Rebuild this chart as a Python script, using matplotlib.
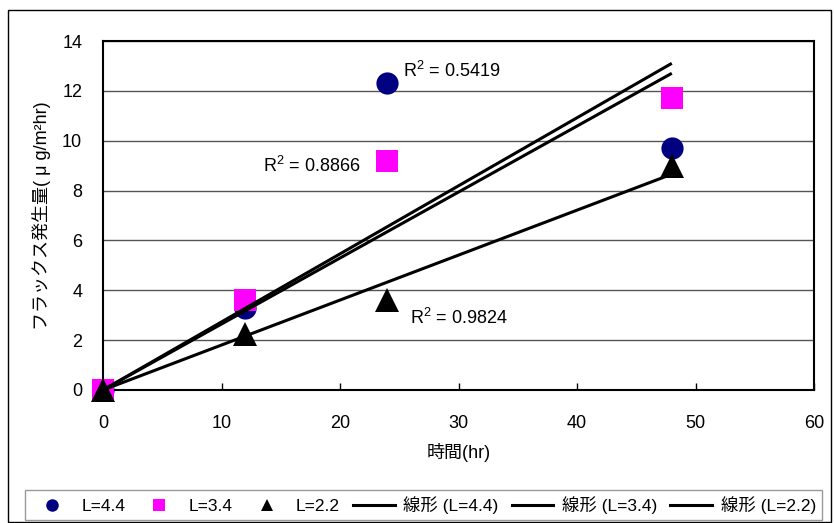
import numpy as np
import matplotlib
matplotlib.use('Agg')
import matplotlib.pyplot as plt
from matplotlib.patches import Rectangle
from matplotlib.lines import Line2D

plt.rcParams['font.family'] = ['Liberation Sans', 'Noto Sans CJK JP']
plt.rcParams['mathtext.fontset'] = 'custom'
plt.rcParams['mathtext.rm'] = 'Liberation Sans'
plt.rcParams['mathtext.it'] = 'Liberation Sans'
plt.rcParams['mathtext.default'] = 'regular'

# ---- data ----
hours = [0, 12, 24, 48]
flux_44 = [0.0, 3.3, 12.3, 9.7]
flux_34 = [0.0, 3.6, 9.2, 11.7]
flux_22 = [0.0, 2.25, 3.6, 9.0]
series_labels = ['L=4.4', 'L=3.4', 'L=2.2']
trend_labels = ['線形 (L=4.4)', '線形 (L=3.4)', '線形 (L=2.2)']
r2_labels = ['R$^{2}$ = 0.5419', 'R$^{2}$ = 0.8866', 'R$^{2}$ = 0.9824']
x_ticks = [0, 10, 20, 30, 40, 50, 60]
y_ticks = [0, 2, 4, 6, 8, 10, 12, 14]
x_label = '時間(hr)'
y_label = 'フラックス発生量( μ g/m²hr)'

W, H = 834, 523
fig = plt.figure(figsize=(W / 100, H / 100), dpi=100)
fig.patch.set_facecolor('white')
fig.patches.append(Rectangle((7.5 / W, 1.5 / H), (831 - 7.5) / W, (513.5 - 1.5) / H,
                             transform=fig.transFigure, fill=False,
                             edgecolor='black', linewidth=1.0))

ax = fig.add_axes([103 / W, 1 - 390 / H, 711 / W, 349 / H])

x = np.array(hours, dtype=float)
series = [flux_44, flux_34, flux_22]
markers = ['o', 's', '^']
colors = ['#000080', '#FF00FF', '#000000']
msizes = [16, 16, 17]
for i, (ys, m, c, ms) in enumerate(zip(series, markers, colors, msizes)):
    ax.plot(x, ys, linestyle='none', marker=m, color=c, markersize=ms,
            markeredgewidth=0, zorder=3 + i, clip_on=False)

xfit = np.array([0.0, 48.0])
for ys in series:
    y = np.array(ys, dtype=float)
    slope = np.sum(x * y) / np.sum(x * x)
    ax.plot(xfit, slope * xfit, color='black', linewidth=2.2, zorder=7,
            solid_capstyle='butt')

r2_pos = [(25.3, 12.55), (13.5, 8.74), (25.9, 2.65)]
for txt, (px, py) in zip(r2_labels, r2_pos):
    ax.text(px, py, txt, fontsize=13, ha='left', va='baseline', zorder=8)

ax.set_xlim(0, 60)
ax.set_ylim(0, 14)
ax.set_xticks(x_ticks)
ax.set_yticks(y_ticks)
ax.tick_params(axis='x', direction='in', length=5, width=1, pad=18, labelsize=13)
ax.tick_params(axis='y', direction='in', length=0, pad=15, labelsize=13)
for s in ax.spines.values():
    s.set_color('black')
    s.set_linewidth(1.5)
ax.yaxis.grid(True, color='#555555', linewidth=1.0)
ax.set_axisbelow(True)

fig.text(458.5 / W, 1 - 452 / H, x_label, ha='center', va='center', fontsize=13)
fig.text(42 / W, 1 - 216 / H, y_label, ha='center', va='center', fontsize=13,
         rotation=90)

handles = []
for m, c in zip(markers, colors):
    handles.append(Line2D([], [], linestyle='none', marker=m, color=c,
                          markersize=9, markeredgewidth=0))
for _ in trend_labels:
    handles.append(Line2D([], [], color='black', linewidth=2.2))
leg = fig.legend(handles, series_labels + trend_labels, loc='center',
                 bbox_to_anchor=(423.5 / W, 1 - 505 / H), ncol=6,
                 fontsize=12.5, frameon=True, fancybox=False,
                 handlelength=2.4, handletextpad=0.5, columnspacing=0.75,
                 borderpad=0.35, borderaxespad=0)
leg.get_frame().set_edgecolor('#808080')
leg.get_frame().set_linewidth(1.0)

fig.savefig('out.png', dpi=100)
